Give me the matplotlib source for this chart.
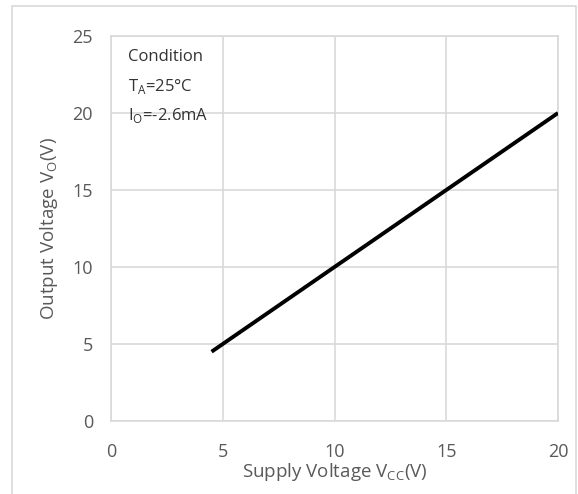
import matplotlib
matplotlib.use("Agg")
import matplotlib.pyplot as plt
from matplotlib.patches import Rectangle

vcc = [4.5, 20.0]
vo = [4.5, 20.0]
x_ticks = [0, 5, 10, 15, 20]
y_ticks = [0, 5, 10, 15, 20, 25]
condition_lines = ["Condition", r"T$_\mathregular{A}$=25°C", r"I$_\mathregular{O}$=-2.6mA"]

plt.rcParams['font.family'] = ['Open Sans', 'DejaVu Sans']
plt.rcParams['mathtext.fontset'] = 'custom'
plt.rcParams['mathtext.rm'] = 'Open Sans'

W, H = 578, 494
fig = plt.figure(figsize=(W / 100, H / 100), dpi=100)
ax = fig.add_axes([111 / W, 1 - 421 / H, (558 - 111) / W, (421 - 36) / H])

grid_c = '#d9d9d9'
text_c = '#595959'

ax.plot(vcc, vo, color='black', lw=2.8, solid_capstyle='butt', zorder=3)
ax.set_xlim(0, 20)
ax.set_ylim(0, 25)
ax.set_xticks(x_ticks)
ax.set_yticks(y_ticks)
ax.grid(True, color=grid_c, lw=1.2)
ax.set_axisbelow(True)
for s in ax.spines.values():
    s.set_color(grid_c)
    s.set_linewidth(1.2)
ax.tick_params(length=0, labelsize=13, labelcolor=text_c)
ax.tick_params(axis='x', pad=16)
ax.tick_params(axis='y', pad=13)
ax.set_xlabel(r"Supply Voltage V$_\mathregular{CC}$(V)", fontsize=13.5, color=text_c, labelpad=0)
ax.set_ylabel(r"Output Voltage V$_\mathregular{O}$(V)", fontsize=13.5, color=text_c, labelpad=9)

for i, t in enumerate(condition_lines):
    ax.text(128 / 100, (H - (57 + i * 29)) / 100, t, transform=fig.dpi_scale_trans,
            fontsize=12, color='#333333', va='center', ha='left')

fig.patches.append(Rectangle((12 / W, -0.05), (576 - 12) / W, 1 - 6 / H + 0.05,
                             transform=fig.transFigure, fill=False,
                             edgecolor=grid_c, lw=1.2))

fig.savefig('out.png', dpi=100)
